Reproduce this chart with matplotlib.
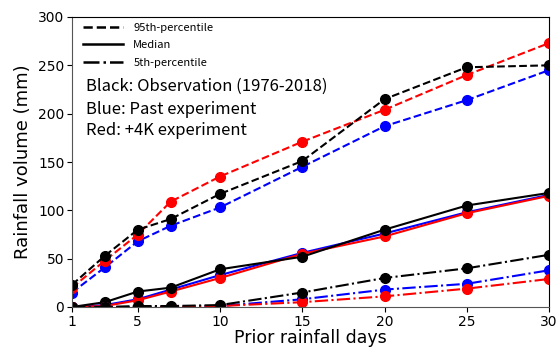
import numpy as np
import matplotlib.pyplot as plt

days = [1, 3, 5, 7, 10, 15, 20, 25, 30]

# 95th percentile
obs_p95 = [23, 53, 80, 91, 117, 151, 215, 248, 250]
past_p95 = [15, 41, 68, 84, 103, 145, 187, 214, 245]
k4_p95 = [20, 48, 75, 109, 135, 171, 204, 240, 273]

# median
obs_med = [0, 5, 16, 20, 39, 52, 80, 105, 118]
past_med = [0, 2, 8, 18, 33, 56, 76, 98, 116]
k4_med = [0, 1, 7, 16, 30, 55, 73, 97, 115]

# 5th percentile
obs_p5 = [0, 0, 1, 1, 2, 15, 30, 40, 54]
past_p5 = [0, 0, 0, 0, 1, 8, 18, 24, 38]
k4_p5 = [0, 0, 0, 0, 1, 5, 11, 19, 29]

jp = ['Noto Sans CJK JP', 'DejaVu Sans']

fig = plt.figure(figsize=(5.6, 3.47), dpi=100)
ax = fig.add_axes([72/560, 40/347, 477/560, 290/347])

series = [
    (past_p95, 'b', '--'), (k4_p95, 'r', '--'), (obs_p95, 'k', '--'),
    (past_med, 'b', '-'), (k4_med, 'r', '-'), (obs_med, 'k', '-'),
    (past_p5, 'b', '-.'), (k4_p5, 'r', '-.'), (obs_p5, 'k', '-.'),
]
for vals, c, ls in series:
    ax.plot(days, vals, color=c, ls=ls, lw=1.5, marker='o', ms=7)

h1, = ax.plot([], [], 'k--', lw=1.8, label='95th-percentile')
h2, = ax.plot([], [], 'k-', lw=1.8, label='Median')
h3, = ax.plot([], [], 'k-.', lw=1.8, label='5th-percentile')
leg = ax.legend(handles=[h1, h2, h3], loc='upper left', frameon=False,
                bbox_to_anchor=(0.012, 1.0),
                prop={'family': jp, 'size': 8}, borderaxespad=0.1,
                handlelength=3.6, handletextpad=0.9, labelspacing=0.7)

ax.text(0.03, 0.76, 'Black: Observation (1976-2018)', transform=ax.transAxes,
        family=jp, fontsize=12, va='center')
ax.text(0.03, 0.68, 'Blue: Past experiment', transform=ax.transAxes,
        family=jp, fontsize=12, va='center')
ax.text(0.03, 0.607, 'Red: +4K experiment', transform=ax.transAxes,
        family=jp, fontsize=12, va='center')

ax.set_xlim(1, 30)
ax.set_ylim(0, 300)
ax.set_xticks([1, 5, 10, 15, 20, 25, 30])
ax.set_yticks(np.arange(0, 301, 50))
ax.tick_params(labelsize=10, pad=2)
ax.set_xlabel('Prior rainfall days', fontsize=12.5, labelpad=0)
ax.set_ylabel('Rainfall volume (mm)', fontsize=13)
for s in ['left', 'bottom']:
    ax.spines[s].set_color('#555555')

fig.savefig('out.png', dpi=100)
